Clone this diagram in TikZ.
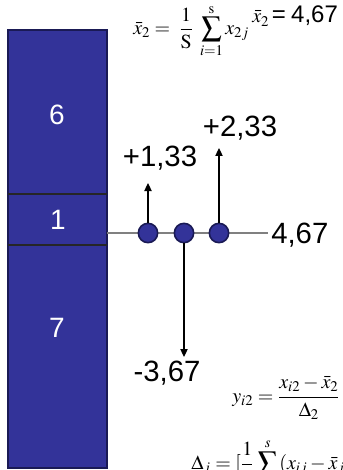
\documentclass[tikz,border=0pt]{standalone}
\usepackage{mathptmx}
\usepackage{fontspec}
\setsansfont{Liberation Sans}
\usepackage{tikz}
\usetikzlibrary{arrows.meta, calc}
\definecolor{colblue}{HTML}{333399}
\definecolor{colnavy}{HTML}{1A1A55}
\tikzset{
	cellnode/.style={
			text=white,
			font=\sffamily\fontsize{21}{25}\selectfont,
			inner sep=0pt
		},
	dotnode/.style={
			circle,
			draw=colnavy,
			fill=colblue,
			line width=1.2pt,
			minimum size=14.5pt,
			inner sep=0pt
		},
	valnode/.style={
			font=\sffamily\fontsize{22}{26}\selectfont,
			inner sep=0pt
		},
	eqnode/.style={
			font=\fontsize{15}{17}\selectfont,
			inner sep=0pt
		}
}
\tikzset{
	devarrow/.style={-{Triangle[length=6pt,width=5.5pt]}, line width=0.8pt}
}
\begin{document}
\begin{tikzpicture}[x=0.75pt, y=-0.75pt]
				\useasboundingbox (0,0) rectangle (342,470);
				\clip (0,0) rectangle (342,470);

				% column of the three values
				\draw[colnavy, fill=colblue, line width=1pt] (8,30) rectangle (107,468);
				\draw[black!85, line width=2pt] (8,194) -- (107,194);
				\draw[black!85, line width=2pt] (8,245) -- (107,245);
				\node[cellnode] (v6) at (57,115) {6};
				\node[cellnode] (v1) at (58,220) {1};
				\node[cellnode] (v7) at (57,328) {7};

				% mean line
				\coordinate (lstart) at (107,233);
				\coordinate (lend) at (268,233);
				\draw[gray, line width=1.2pt] (lstart) -- (lend);
				\node[valnode, anchor=west] (mean) at (271,235) {4,67};

				\node[dotnode] (d1) at (148,233) {};
				\node[dotnode] (d2) at (184,233) {};
				\node[dotnode] (d3) at (219,233) {};

				\coordinate (t1) at (148,183);
				\coordinate (t2) at (184,357);
				\coordinate (t3) at (219,148);
				\draw[devarrow] (d1) -- (t1);
				\draw[devarrow] (d2) -- (t2);
				\draw[devarrow] (d3) -- (t3);

				\node[valnode] (l1) at (160,158) {+1,33};
				\node[valnode] (l3) at (240,128) {+2,33};
				\node[valnode] (l2) at (167,373) {-3,67};

				% formulas
				\node[eqnode, anchor=west] (fmean) at (133,31) {$\displaystyle \bar{x}_2=\;\frac{1}{\mathrm{S}}\;\sum_{i=1}^{\mathrm{s}}x_{2j}$};
				\node[eqnode, anchor=base west] (fval) at (252,23) {$\bar{x}_2$\hspace{2pt}\sffamily\fontsize{18}{20}\selectfont=\hspace{4pt}4,67};
				\node[eqnode, anchor=west] (fy) at (232,398) {$\displaystyle y_{i2}=\frac{x_{i2}-\bar{x}_2}{\Delta_2}$};
				\node[eqnode, anchor=base west] (fd) at (191,469) {$\displaystyle \Delta_j=[\frac{1}{s}\sum_{i=1}^{s}(x_{ij}-\bar{x}_j)^2]^{1/2}$};

			\end{tikzpicture}
\end{document}
